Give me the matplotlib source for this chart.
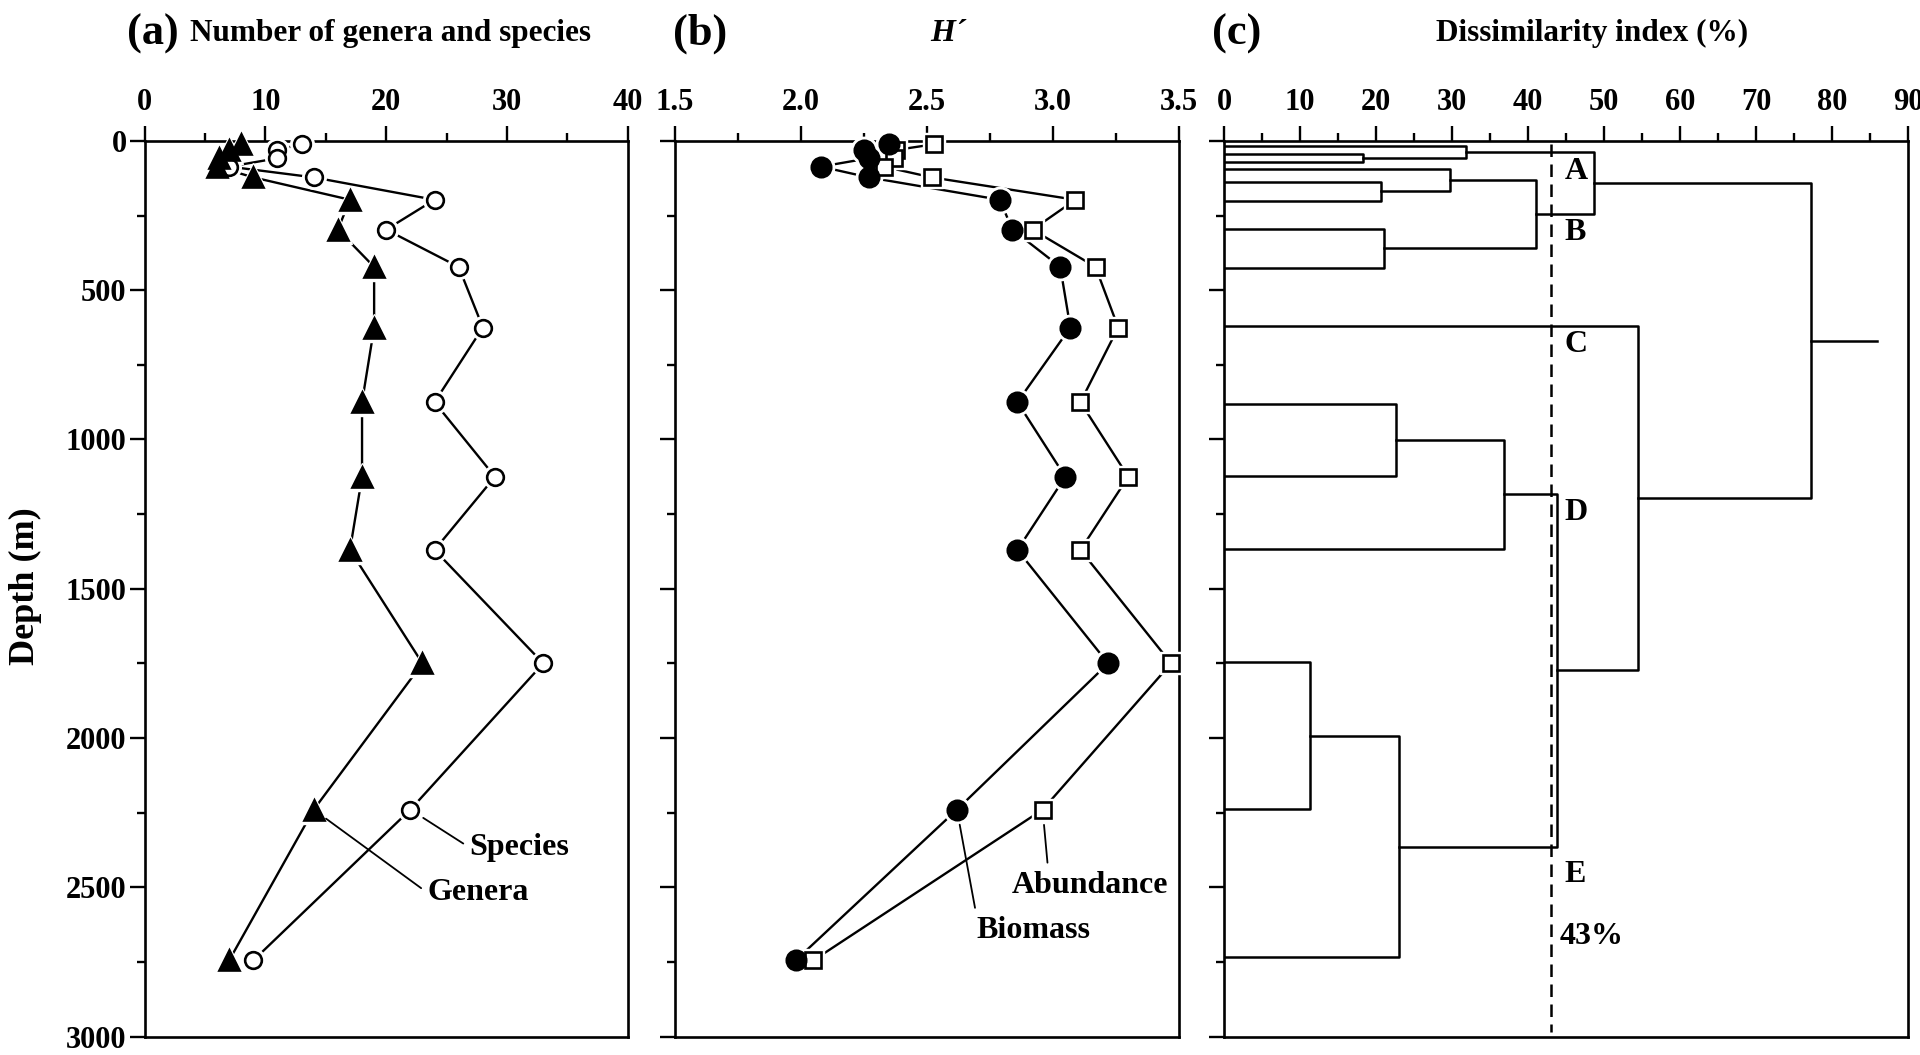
import matplotlib
matplotlib.use("Agg")
import matplotlib.pyplot as plt
from matplotlib.ticker import MultipleLocator, FormatStrFormatter

plt.rcParams["font.family"] = ["Liberation Serif", "DejaVu Serif"]
plt.rcParams["font.weight"] = "bold"

# ---- data ----
depth = [11, 30, 58, 86, 122, 197, 297, 422, 625, 875, 1125, 1370, 1750, 2240, 2745]
genera = [8, 7, 6.2, 6, 9, 17, 16, 19, 19, 18, 18, 17, 23, 14, 7]
species = [13, 11, 11, 7, 14, 24, 20, 26, 28, 24, 29, 24, 33, 22, 9]

h_biomass = [2.35, 2.25, 2.27, 2.08, 2.27, 2.79, 2.84, 3.03, 3.07, 2.86, 3.05, 2.86, 3.22, 2.62, 1.98]
h_abundance = [2.53, 2.38, 2.37, 2.33, 2.52, 3.09, 2.92, 3.17, 3.26, 3.11, 3.30, 3.11, 3.47, 2.96, 2.05]

# dendrogram: leaf depths and merges (child a, child b, dissimilarity %)
leaf_depth = [16, 44, 71, 94, 138, 200, 296, 424, 620, 880, 1121, 1366, 1747, 2237, 2735]
merges = [
    (1, 2, 18.3), (0, 15, 31.8), (4, 5, 20.7), (3, 17, 29.7), (6, 7, 21.1),
    (18, 19, 41.0), (16, 20, 48.7), (9, 10, 22.6), (22, 11, 36.8),
    (12, 13, 11.35), (24, 14, 23.0), (23, 25, 43.8), (8, 26, 54.5), (21, 27, 77.3),
]
root_stem = 85.9
cut_level = 43
group_labels = ["A", "B", "C", "D", "E"]
group_depths = [102, 306, 682, 1245, 2457]

fig = plt.figure(figsize=(19.2, 10.55), dpi=100)
bottom, top = 0.0175, 0.8664
ax_a = fig.add_axes([0.0753, bottom, 0.327 - 0.0753, top - bottom])
ax_b = fig.add_axes([0.3514, bottom, 0.6139 - 0.3514, top - bottom])
ax_c = fig.add_axes([0.6375, bottom, 0.99375 - 0.6375, top - bottom])

LW = 1.7
TXT = 23


def style_axes(ax, show_ylabels):
    ax.xaxis.tick_top()
    ax.set_ylim(3000, 0)
    ax.yaxis.set_major_locator(MultipleLocator(500))
    ax.yaxis.set_minor_locator(MultipleLocator(250))
    ax.tick_params(which="major", direction="out", length=11, width=1.7, labelsize=22, pad=6)
    ax.tick_params(which="minor", direction="out", length=6, width=1.7)
    ax.tick_params(axis="y", which="major", pad=2)
    if not show_ylabels:
        ax.tick_params(axis="y", labelleft=False)
    for s in ax.spines.values():
        s.set_linewidth(1.9)


def series(ax, x, y, marker, ms, filled):
    ax.plot(x, y, color="black", lw=LW, zorder=2, clip_on=False)
    ax.plot(x, y, ls="none", marker=marker, ms=ms + 5, mfc="white", mec="white",
            zorder=3, clip_on=False)
    ax.plot(x, y, ls="none", marker=marker, ms=ms, mfc="black" if filled else "white",
            mec="black", mew=1.9, zorder=4, clip_on=False)


# ---- (a) genera / species ----
style_axes(ax_a, True)
ax_a.set_xlim(0, 40)
ax_a.xaxis.set_major_locator(MultipleLocator(10))
ax_a.xaxis.set_minor_locator(MultipleLocator(5))
series(ax_a, species, depth, "o", 12, False)
series(ax_a, genera, depth, "^", 15, True)
ax_a.set_ylabel("Depth (m)", fontsize=26, fontweight="bold")
ax_a.yaxis.set_label_coords(-0.212, 0.503)
ax_a.annotate("Species", xy=(species[13], depth[13]), xytext=(26.9, 2367),
              fontsize=TXT, fontweight="bold", ha="left", va="center",
              arrowprops=dict(arrowstyle="-", lw=1.3, color="black",
                              shrinkA=3, shrinkB=11, relpos=(0, 0.5)))
ax_a.annotate("Genera", xy=(genera[13], depth[13]), xytext=(23.4, 2518),
              fontsize=TXT, fontweight="bold", ha="left", va="center",
              arrowprops=dict(arrowstyle="-", lw=1.3, color="black",
                              shrinkA=3, shrinkB=11, relpos=(0, 0.5)))

# ---- (b) H' ----
style_axes(ax_b, False)
ax_b.set_xlim(1.5, 3.5)
ax_b.xaxis.set_major_locator(MultipleLocator(0.5))
ax_b.xaxis.set_minor_locator(MultipleLocator(0.25))
ax_b.xaxis.set_major_formatter(FormatStrFormatter("%.1f"))
series(ax_b, h_abundance, depth, "s", 11.5, False)
series(ax_b, h_biomass, depth, "o", 14, True)
ax_b.annotate("Abundance", xy=(h_abundance[13], depth[13]), xytext=(3.15, 2494),
              fontsize=TXT, fontweight="bold", ha="center", va="center",
              arrowprops=dict(arrowstyle="-", lw=1.3, color="black",
                              shrinkA=4, shrinkB=11, relpos=(0.23, 1.0)))
ax_b.annotate("Biomass", xy=(h_biomass[13], depth[13]), xytext=(2.924, 2645),
              fontsize=TXT, fontweight="bold", ha="center", va="center",
              arrowprops=dict(arrowstyle="-", lw=1.3, color="black",
                              shrinkA=4, shrinkB=11, relpos=(0.0, 1.0)))

# ---- (c) dendrogram ----
style_axes(ax_c, False)
ax_c.set_xlim(0, 90)
ax_c.xaxis.set_major_locator(MultipleLocator(10))
ax_c.xaxis.set_minor_locator(MultipleLocator(5))

pos = {i: (d, 0.0) for i, d in enumerate(leaf_depth)}
n = len(leaf_depth)
for k, (a, b, h) in enumerate(merges):
    ya, ha = pos[a]
    yb, hb = pos[b]
    ax_c.plot([ha, h, h, hb], [ya, ya, yb, yb], color="black", lw=1.8, zorder=2)
    pos[n + k] = ((ya + yb) / 2, h)
root_y, root_h = pos[n + len(merges) - 1]
ax_c.plot([root_h, root_stem], [root_y, root_y], color="black", lw=1.8)

ax_c.plot([cut_level, cut_level], [10, 2985], color="black", lw=1.8, ls=(0, (5, 3)), zorder=1)
for lab, d in zip(group_labels, group_depths):
    ax_c.text(44.8, d, lab, fontsize=TXT, fontweight="bold", ha="left", va="center")
ax_c.text(44.2, 2665, "43%", fontsize=TXT, fontweight="bold", ha="left", va="center")

# ---- panel titles ----
ty = 0.968
fig.text(0.066, ty, "(a)", fontsize=32, fontweight="bold", ha="left", va="center")
fig.text(0.099, ty, "Number of genera and species", fontsize=22.5, fontweight="bold",
         ha="left", va="center")
fig.text(0.3506, ty, "(b)", fontsize=32, fontweight="bold", ha="left", va="center")
fig.text(0.494, ty, "H\u00b4", fontsize=23, fontweight="bold", style="italic",
         ha="center", va="center")
fig.text(0.631, ty, "(c)", fontsize=32, fontweight="bold", ha="left", va="center")
fig.text(0.829, ty, "Dissimilarity index (%)", fontsize=22.5, fontweight="bold",
         ha="center", va="center")

fig.savefig("out.png", dpi=100)
